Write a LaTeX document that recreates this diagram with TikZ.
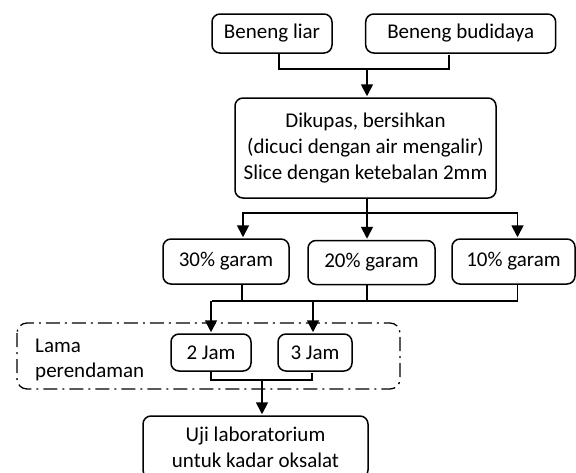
\documentclass[tikz,border=0pt]{standalone}
\usepackage{fontspec}
\setmainfont{Carlito}
\usetikzlibrary{arrows.meta,positioning}

\begin{document}
\begin{tikzpicture}[x=1pt,y=-1pt,>={Triangle[width=12pt,length=12pt]},
                    shorten >=1pt,line width=1.8pt]
    \tikzset{box/.style={draw,rectangle,rounded corners=8pt,line width=1.5pt,
                         align=center,inner sep=2pt,
                         font=\fontsize{21}{26}\selectfont}}
    \useasboundingbox (0,0) rectangle (576,472);
    % dash-dot frame for soaking time
    \draw[line width=1.3pt,rounded corners=10pt,
          dash pattern=on 14pt off 5pt on 2pt off 5pt]
        (17,323) rectangle (400,389);
    \node[align=left,anchor=west,font=\fontsize{21}{25}\selectfont]
        (lama) at (31,359.5) {Lama\\perendaman};
    \node[box,minimum width=120pt,minimum height=39pt] (liar) at (272,33.5) {Beneng liar};
    \node[box,minimum width=190pt,minimum height=39pt] (budi) at (460.7,33.5) {Beneng budidaya};
    \node[box,minimum width=261pt,minimum height=100pt] (proses) at (365.5,148)
        {Dikupas, bersihkan\\(dicuci dengan air mengalir)\\Slice dengan ketebalan 2mm};
    \node[box,minimum width=126pt,minimum height=45pt] (g30) at (226,261.5) {30\% garam};
    \node[box,minimum width=127pt,minimum height=44pt] (g20) at (371.5,262.5) {20\% garam};
    \node[box,minimum width=123pt,minimum height=45pt] (g10) at (513.5,261.5) {10\% garam};
    \node[box,minimum width=80pt,minimum height=37pt] (jam2) at (211,352.5) {2 Jam};
    \node[box,minimum width=74pt,minimum height=37pt] (jam3) at (315,352.5) {3 Jam};
    \node[box,minimum width=225pt,minimum height=62pt] (lab) at (255.5,447)
        {Uji laboratorium\\untuk kadar oksalat};
    \coordinate (j1) at (367,69);
    \coordinate (j2) at (367,213);
    \coordinate (j3) at (211,301);
    \coordinate (j4) at (262,380);
    \draw ([xshift=7pt]liar.south) |- (j1) -| ([xshift=-12pt]budi.south);
    \draw[->] (j1) -- (j1 |- proses.north);
    \draw (j2 |- proses.south) -- (j2);
    \draw[->] (j2) -| ([xshift=17pt]g30.north);
    \draw[->] (j2) -| ([xshift=4pt]g10.north);
    \draw[->] (j2) -- (j2 |- g20.north);
    \draw ([xshift=16pt]g30.south) |- (j3);
    \draw ([xshift=4pt]g10.south) |- (j3);
    \draw (j2 |- g20.south) -- (j2 |- j3);
    \draw[->] (j3) -- (jam2.north);
    \draw[->] ([xshift=-2pt]jam3.north |- j3) -- ([xshift=-2pt]jam3.north);
    \draw (jam2.south) |- (j4) -| ([xshift=-3pt]jam3.south);
    \draw[->] (j4) -- (j4 |- lab.north);
\end{tikzpicture}
\end{document}
